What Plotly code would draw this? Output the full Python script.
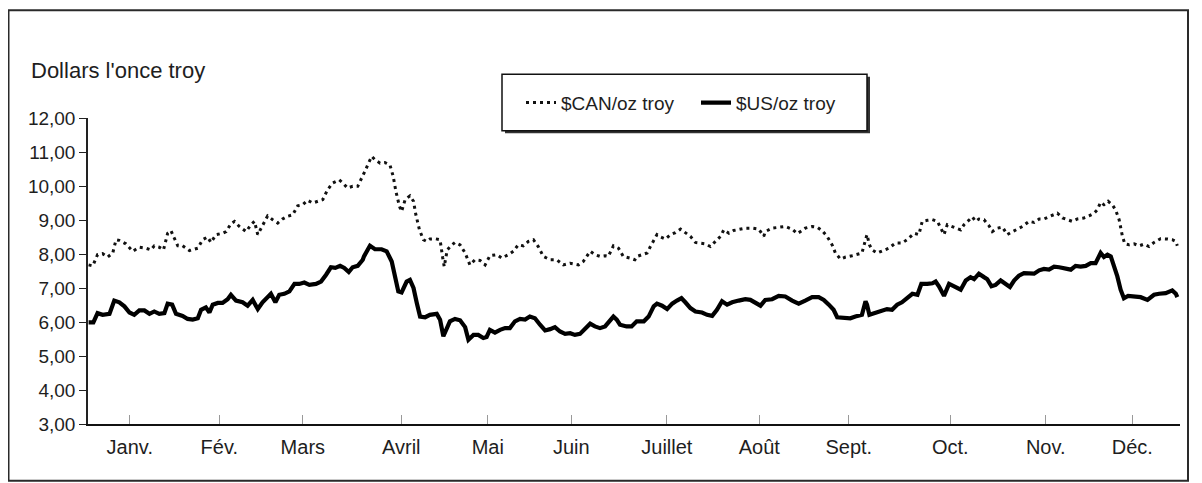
import pandas as pd
import plotly.graph_objects as go

# ---------------- data ----------------
BASE = "2004-01-01"  # day 0 of the axis

can_days = [0.2, 1.6, 3.2, 4.9, 6.6, 8.3, 9.4, 10.5, 12.7, 15.0, 17.2, 19.4, 21.1, 22.2, 23.9, 25.3,
            26.7, 27.8, 28.9, 30.1, 31.7, 34.0, 35.6, 36.8, 38.4, 40.1, 41.2, 42.9, 45.1, 46.3, 47.9,
            49.1, 50.7, 53.0, 54.6, 55.8, 56.9, 58.0, 60.2, 61.9, 63.6, 65.2, 66.9, 68.6, 70.3, 72.0,
            73.6, 75.3, 77.0, 78.7, 80.3, 82.0, 84.2, 85.4, 87.0, 88.7, 90.4, 92.1,
            92.8, 94.0, 95.1, 96.2, 97.9, 99.5, 101.2, 102.3, 103.2, 104.4, 105.1, 106.3, 107.9, 109.1,
            109.9, 111.1, 112.4, 113.5, 114.6, 116.3, 118.0, 118.9, 119.4, 120.4, 121.6, 123.0, 124.7,
            126.4, 128.0, 129.7, 131.4, 133.1, 134.7, 137.0, 138.7, 140.9, 142.6, 144.2, 145.9, 147.6,
            149.3, 150.9, 152.6, 154.9, 157.1, 159.3, 161.6, 164.4, 166.0, 168.3, 169.9, 171.6, 173.3,
            174.4, 176.1, 177.8, 179.4, 181.7, 183.3,
            184.0, 185.7, 187.4, 188.5, 189.6, 190.7, 191.9, 193.5, 195.2, 196.9, 198.6, 200.2, 201.9,
            203.6, 205.3, 206.9, 208.6, 210.3, 212.0, 213.1, 214.8, 216.4, 218.1, 220.3, 222.6, 224.8,
            226.5, 227.0, 229.3, 231.5, 233.7, 236.0, 237.7, 238.8, 240.4, 242.7, 244.4, 246.0, 247.7,
            249.4, 250.5, 252.2, 253.9, 256.1, 257.8, 259.4, 260.6, 261.1, 261.9, 262.8, 264.5, 266.7,
            268.4, 270.6, 272.8, 274.5,
            275.2, 276.9, 278.5, 279.6, 281.3, 283.0, 284.7, 285.8, 286.9, 288.0, 289.7, 291.4, 292.5,
            293.6, 295.3, 296.4, 297.5, 298.6, 300.3, 302.0, 303.1, 304.8, 306.5, 308.1, 309.3, 310.9,
            313.2, 315.4, 317.1, 318.8, 320.4, 322.7, 324.9, 326.6, 328.2, 329.9, 331.6, 333.8, 335.5,
            337.2, 338.3, 339.4, 340.5, 341.9, 343.3, 344.4, 345.6, 346.7, 347.5, 348.9, 350.6, 352.3,
            353.9, 355.6, 357.3, 359.5, 361.8, 363.4, 364.6, 365.1]
can_vals = [7.68, 7.65, 7.98, 8.01, 7.91, 8.03, 8.42, 8.40, 8.30, 8.08, 8.20, 8.17, 8.12, 8.24, 8.20, 8.12,
            8.61, 8.69, 8.47, 8.24, 8.24, 8.10, 8.14, 8.17, 8.42, 8.50, 8.34, 8.57, 8.61, 8.66, 8.89,
            8.96, 8.81, 8.66, 8.86, 8.96, 8.57, 8.76, 9.12, 9.01, 8.91, 9.03, 9.11, 9.15, 9.42, 9.45,
            9.58, 9.50, 9.55, 9.60, 9.89, 10.09, 10.18, 10.09, 9.94, 9.99, 9.99, 10.28,
            10.43, 10.67, 10.87, 10.77, 10.67, 10.69, 10.62, 10.28, 9.84, 9.40, 9.25, 9.60, 9.71, 9.55,
            9.15, 8.71, 8.42, 8.37, 8.44, 8.45, 8.42, 7.88, 7.63, 8.12, 8.24, 8.34, 8.27,
            8.03, 7.68, 7.83, 7.81, 7.68, 7.95, 7.98, 7.88, 7.98, 8.08, 8.27, 8.24, 8.37,
            8.42, 8.22, 7.93, 7.83, 7.83, 7.68, 7.73, 7.68, 7.78, 8.08, 7.98, 7.93, 7.95,
            7.93, 8.24, 8.17, 7.93, 7.88, 7.83,
            7.93, 7.98, 8.03, 8.22, 8.42, 8.57, 8.50, 8.44, 8.57, 8.63, 8.73, 8.63, 8.52,
            8.34, 8.32, 8.30, 8.22, 8.37, 8.52, 8.71, 8.61, 8.69, 8.73, 8.76, 8.76, 8.73,
            8.52, 8.66, 8.76, 8.79, 8.81, 8.73, 8.60, 8.66, 8.76, 8.81, 8.79, 8.69, 8.52,
            8.27, 8.03, 7.85, 7.91, 7.95, 7.98, 8.03, 8.42, 8.57, 8.27, 8.12, 8.03, 8.11,
            8.17, 8.32, 8.32, 8.42,
            8.47, 8.61, 8.57, 8.96, 8.99, 9.01, 8.96, 8.76, 8.57, 8.86, 8.81, 8.76, 8.71,
            8.86, 9.01, 9.09, 8.96, 9.03, 9.01, 8.83, 8.66, 8.76, 8.79, 8.57, 8.63, 8.71,
            8.81, 8.96, 8.93, 9.03, 9.03, 9.12, 9.20, 9.06, 9.01, 8.96, 9.03, 9.06, 9.12,
            9.20, 9.30, 9.52, 9.45, 9.55, 9.45, 9.30, 9.01, 8.52, 8.30, 8.27, 8.30, 8.24,
            8.29, 8.22, 8.34, 8.45, 8.44, 8.42, 8.37, 8.24]

us_days = [0.2, 1.8, 3.2, 4.9, 7.2, 8.8, 10.5, 12.2, 13.9, 15.5, 17.2, 18.9, 20.6, 22.2, 23.9, 25.6,
           26.7, 28.2, 29.5, 31.7, 33.4, 35.1, 36.8, 37.9, 39.5, 40.7, 41.8, 43.5, 45.1, 46.8, 47.9,
           49.6, 51.8, 53.5, 55.2, 56.9, 58.5, 59.7, 61.3, 62.8, 64.1, 65.8, 67.5, 69.2, 70.8, 72.5,
           74.2, 76.4, 78.1, 79.8, 81.4, 82.9, 84.5, 85.9, 87.4, 88.7, 90.4, 92.1,
           92.5, 94.5, 96.2, 98.4, 100.1, 101.8, 102.9, 104.0, 105.1, 106.8, 107.9, 109.1, 110.2,
           111.3, 113.0, 114.6, 116.9, 118.0, 119.1, 120.2, 121.3, 123.0, 124.7, 126.4, 127.5, 129.2,
           130.8, 132.5, 133.6, 134.7, 136.4, 138.1, 139.8, 141.4, 143.1, 144.8, 146.5, 148.1, 149.8,
           151.5, 153.2, 154.9, 156.5, 158.2, 159.9, 161.6, 163.2, 164.9, 166.6, 168.3, 169.9, 171.6,
           173.3, 174.4, 176.1, 177.2, 178.3, 180.5, 182.2, 183.9,
           186.3, 187.9, 189.6, 190.7, 192.4, 194.1, 195.8, 197.4, 198.9, 200.2, 201.9, 203.6, 205.8,
           207.5, 209.2, 210.8, 212.5, 214.2, 215.9, 218.1, 220.3, 222.0, 223.7, 225.4, 227.0, 229.3,
           231.5, 233.7, 236.0, 238.2, 240.4, 242.7, 244.9, 246.6, 248.3, 249.9, 251.1, 253.3, 255.5,
           257.2, 259.4, 260.6, 261.1, 261.9, 263.4, 265.6, 267.8, 269.5, 271.2, 272.8, 274.5,
           276.3, 278.0, 279.3, 281.3, 283.0, 284.1, 285.2, 286.9, 288.6, 290.3, 292.5, 294.2, 295.8,
           297.0, 298.6, 300.3, 301.4, 302.8, 304.2, 305.9, 307.6, 309.0, 310.4, 312.0, 313.7, 315.4,
           317.1, 318.8, 320.4, 322.1, 323.8, 325.5, 327.1, 329.4, 331.0, 332.7, 334.4, 336.1, 337.7,
           339.4, 340.5, 341.7, 342.8, 343.9, 345.0, 346.1, 347.2, 348.6, 350.6, 352.8, 355.1, 357.3,
           359.0, 361.2, 363.4, 364.6, 365.1]
us_vals = [5.99, 5.99, 6.26, 6.21, 6.24, 6.63, 6.58, 6.46, 6.28, 6.21, 6.34, 6.34, 6.24, 6.31, 6.24, 6.26,
           6.54, 6.51, 6.24, 6.18, 6.09, 6.07, 6.11, 6.36, 6.43, 6.28, 6.51, 6.56, 6.56, 6.67, 6.80,
           6.63, 6.58, 6.48, 6.65, 6.38, 6.58, 6.70, 6.83, 6.58, 6.80, 6.83, 6.90, 7.12, 7.12, 7.16,
           7.09, 7.12, 7.19, 7.39, 7.61, 7.59, 7.65, 7.59, 7.47, 7.61, 7.65, 7.83,
           7.93, 8.24, 8.14, 8.14, 8.08, 7.78, 7.34, 6.90, 6.87, 7.19, 7.24, 7.00, 6.56,
           6.16, 6.14, 6.21, 6.24, 6.07, 5.58, 5.77, 6.02, 6.09, 6.05, 5.85, 5.48, 5.62,
           5.62, 5.53, 5.56, 5.77, 5.69, 5.77, 5.82, 5.82, 6.02, 6.09, 6.07, 6.16, 6.11,
           5.92, 5.75, 5.79, 5.85, 5.72, 5.65, 5.67, 5.62, 5.65, 5.79, 5.95, 5.87, 5.82,
           5.87, 5.99, 6.16, 6.07, 5.92, 5.87, 5.87, 6.02,
           6.02, 6.16, 6.46, 6.54, 6.48, 6.38, 6.54, 6.63, 6.70, 6.58, 6.41, 6.31, 6.28,
           6.21, 6.18, 6.36, 6.61, 6.51, 6.58, 6.63, 6.67, 6.65, 6.58, 6.48, 6.65, 6.67,
           6.77, 6.75, 6.63, 6.54, 6.63, 6.73, 6.73, 6.65, 6.51, 6.36, 6.14, 6.11, 6.11,
           6.16, 6.21, 6.61, 6.51, 6.21, 6.26, 6.31, 6.38, 6.36, 6.51, 6.58, 6.70,
           6.83, 6.80, 7.12, 7.12, 7.14, 7.19, 7.05, 6.77, 7.12, 7.05, 6.95, 7.22, 7.32,
           7.26, 7.42, 7.32, 7.26, 7.05, 7.09, 7.22, 7.12, 7.03, 7.22, 7.36, 7.44, 7.44,
           7.42, 7.52, 7.56, 7.54, 7.63, 7.61, 7.59, 7.54, 7.65, 7.63, 7.65, 7.73, 7.73,
           8.03, 7.91, 7.98, 7.93, 7.65, 7.34, 6.95, 6.70, 6.77, 6.75, 6.73, 6.65, 6.80,
           6.83, 6.85, 6.93, 6.83, 6.73]

month_labels = ["Janv.", "Fév.", "Mars", "Avril", "Mai", "Juin",
                "Juillet", "Août", "Sept.", "Oct.", "Nov.", "Déc."]
month_ticks = ["2004-01-15", "2004-02-14", "2004-03-13", "2004-04-15", "2004-05-14", "2004-06-11",
               "2004-07-13", "2004-08-13", "2004-09-12", "2004-10-16", "2004-11-17", "2004-12-16"]
y_ticks = [3, 4, 5, 6, 7, 8, 9, 10, 11, 12]

series_names = ["$CAN/oz troy", "$US/oz troy"]
y_title = "Dollars l'once troy"

# ---------------- figure ----------------
base = pd.Timestamp(BASE)


def to_dates(days):
    return [base + pd.Timedelta(days=float(d)) for d in days]


OFF = 8  # the page body adds an 8 px margin; positions below are page pixels
W, H = 1202 - OFF, 483 - OFF
PL, PR, PT, PB = 88, 1180, 118.3, 424.3  # plot area, page pixels
FONT = "Liberation Sans, Arial, Helvetica, sans-serif"
TXT = "#1e1e1e"


def px(x):
    return (x - PL) / (PR - PL)


def py(y):
    return (PB - y) / (PB - PT)


fig = go.Figure()
fig.add_trace(go.Scatter(
    x=to_dates(can_days), y=can_vals, mode="lines", name=series_names[0],
    line=dict(color="#111111", width=3, dash="3px,4px"), legend="legend"))
fig.add_trace(go.Scatter(
    x=to_dates(us_days), y=us_vals, mode="lines", name=series_names[1],
    line=dict(color="#000000", width=4.2), legend="legend2"))

shapes = [
    # outer frame
    dict(type="rect", xref="paper", yref="paper", x0=px(8.5), x1=px(1188), y0=py(481), y1=py(10.5),
         line=dict(color="#2a2a2a", width=2), fillcolor="rgba(0,0,0,0)", layer="below"),
    # legend shadow
    dict(type="rect", xref="paper", yref="paper", x0=px(505), x1=px(870), y0=py(133.5), y1=py(77),
         line=dict(width=0), fillcolor="#333333"),
    # legend box
    dict(type="rect", xref="paper", yref="paper", x0=px(502), x1=px(867), y0=py(131), y1=py(74.5),
         line=dict(color="#111111", width=1.5), fillcolor="white"),
]

fig.update_layout(
    width=W, height=H,
    margin=dict(l=PL - OFF, r=1202 - PR, t=PT - OFF, b=483 - PB, autoexpand=False),
    paper_bgcolor="white", plot_bgcolor="white",
    separators=", ",
    font=dict(family=FONT, size=19, color=TXT),
    showlegend=True,
    legend=dict(orientation="h", x=px(521), xanchor="left", y=py(103), yanchor="middle",
                bgcolor="rgba(0,0,0,0)", borderwidth=0, font=dict(size=19, color=TXT)),
    legend2=dict(orientation="h", x=px(696), xanchor="left", y=py(103), yanchor="middle",
                 bgcolor="rgba(0,0,0,0)", borderwidth=0, font=dict(size=19, color=TXT)),
    shapes=shapes,
    annotations=[dict(text=y_title, xref="paper", yref="paper", x=px(29), xanchor="left",
                      y=py(71), yanchor="middle", showarrow=False,
                      font=dict(size=22, color=TXT))],
    xaxis=dict(type="date", range=[base, base + pd.Timedelta(days=366)],
               tickvals=month_ticks, ticktext=month_labels,
               ticks="inside", ticklen=9, tickwidth=1, tickcolor="#999999",
               ticklabelstandoff=4,
               showline=True, linecolor="#111111", linewidth=2,
               showgrid=False, zeroline=False, tickfont=dict(size=20, color=TXT)),
    yaxis=dict(range=[3, 12], tickvals=y_ticks, tickformat=".2f",
               ticks="outside", ticklen=7, tickwidth=1.2, tickcolor="#222222",
               showline=True, linecolor="#222222", linewidth=1.5,
               showgrid=False, zeroline=False, tickfont=dict(size=19, color=TXT)),
)

fig.write_html("out.html")
